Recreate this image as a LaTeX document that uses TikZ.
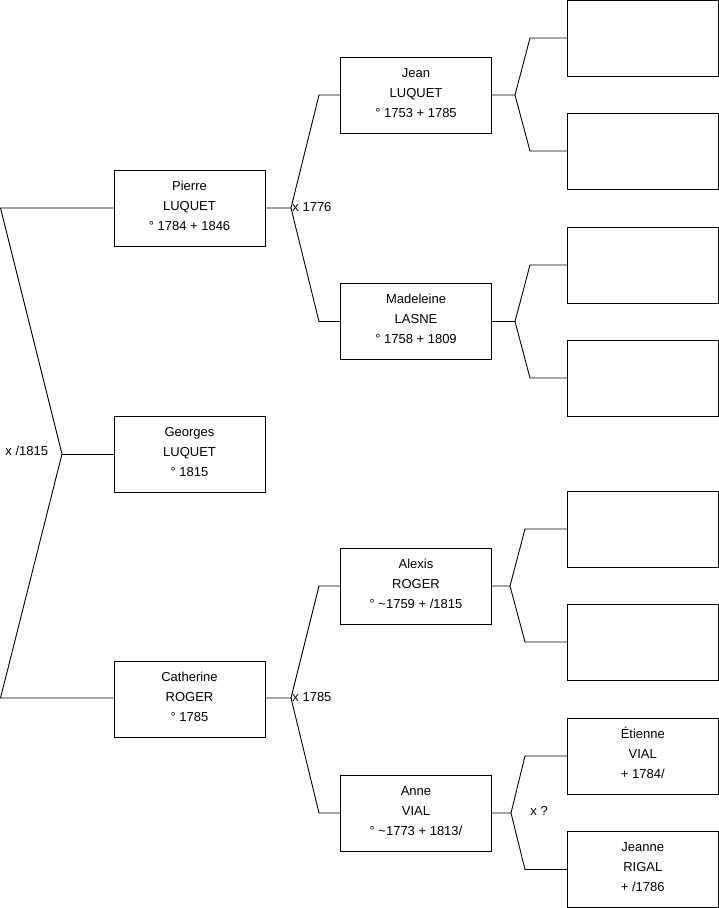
\documentclass[tikz,border=0pt]{standalone}
\usepackage{fontspec}
\setmainfont{Liberation Sans}
\newcommand{\famtxt}[3]{\rule{0pt}{13.5pt}#1\\#2\\#3\rule[-9.5pt]{0pt}{9.5pt}}
\begin{document}
\begin{tikzpicture}[x=1pt,y=-1pt,line width=0.9pt,
  box/.style={draw,rectangle,minimum width=151pt,minimum height=76pt,inner sep=0pt,align=center,font=\fontsize{13}{20}\selectfont},
  lbl/.style={anchor=west,inner sep=0pt,font=\fontsize{13}{15}\selectfont}]
\useasboundingbox (0,0) rectangle (719,908);
% generation 1
\node[box] (Pierre) at (189.5,208) {\famtxt{Pierre}{LUQUET}{° 1784 + 1846}};
\node[box] (Georges) at (189.5,454) {\famtxt{Georges}{LUQUET}{° 1815}};
\node[box] (Catherine) at (189.5,699) {\famtxt{Catherine}{ROGER}{° 1785}};
% generation 2
\node[box] (Jean) at (416,95) {\famtxt{Jean}{LUQUET}{° 1753 + 1785}};
\node[box] (Madeleine) at (416,321.5) {\famtxt{Madeleine}{LASNE}{° 1758 + 1809}};
\node[box] (Alexis) at (416,586) {\famtxt{Alexis}{ROGER}{° \textasciitilde1759 + /1815}};
\node[box] (Anne) at (416,813) {\famtxt{Anne}{VIAL}{° \textasciitilde1773 + 1813/}};
% generation 3
\node[box] (r1) at (642.8,38) {};
\node[box] (r2) at (642.8,151) {};
\node[box] (r3) at (642.8,265) {};
\node[box] (r4) at (642.8,378) {};
\node[box] (r5) at (642.8,529) {};
\node[box] (r6) at (642.8,642) {};
\node[box] (r7) at (642.8,756) {\famtxt{Étienne}{VIAL}{+ 1784/}};
\node[box] (r8) at (642.8,869.5) {\famtxt{Jeanne}{RIGAL}{+ /1786}};
% left connectors
\coordinate (L1) at (0.5,208);
\coordinate (L2) at (62,454);
\coordinate (L3) at (0.5,698);
\draw (Pierre.west) -- (L1) -- (L2) -- (L3) -- (Catherine.west |- L3);
\draw (L2) -- (Georges.west);
\node[lbl] (m0) at (5,451) {x /1815};
% Pierre -> parents
\coordinate (P0) at (291,208);
\coordinate (P1) at (319,95);
\coordinate (P2) at (319,321.5);
\draw (Pierre.east) -- (P0) -- (P1) -- (Jean.west);
\draw (P0) -- (P2) -- (Madeleine.west);
\node[lbl] (m1) at (292,207) {x 1776};
% Catherine -> parents
\coordinate (C0) at (291,698);
\coordinate (C1) at (319,586);
\coordinate (C2) at (319,813);
\draw (Catherine.east |- C0) -- (C0) -- (C1) -- (Alexis.west);
\draw (C0) -- (C2) -- (Anne.west);
\node[lbl] (m2) at (292,697) {x 1785};
% Jean -> parents
\coordinate (J0) at (515,95);
\coordinate (J1) at (530,38);
\coordinate (J2) at (530,151);
\draw (Jean.east) -- (J0) -- (J1) -- (r1.west);
\draw (J0) -- (J2) -- (r2.west);
% Madeleine -> parents
\coordinate (M0) at (515,321.5);
\coordinate (M1) at (530,265);
\coordinate (M2) at (530,378);
\draw (Madeleine.east) -- (M0) -- (M1) -- (r3.west);
\draw (M0) -- (M2) -- (r4.west);
% Alexis -> parents
\coordinate (A0) at (510,586);
\coordinate (A1) at (525,529);
\coordinate (A2) at (525,642);
\draw (Alexis.east) -- (A0) -- (A1) -- (r5.west);
\draw (A0) -- (A2) -- (r6.west);
% Anne -> parents
\coordinate (N0) at (511,813);
\coordinate (N1) at (525,756);
\coordinate (N2) at (525,869.5);
\draw (Anne.east) -- (N0) -- (N1) -- (r7.west);
\draw (N0) -- (N2) -- (r8.west);
\node[lbl] (m3) at (530,811) {x ?};
\end{tikzpicture}
\end{document}
